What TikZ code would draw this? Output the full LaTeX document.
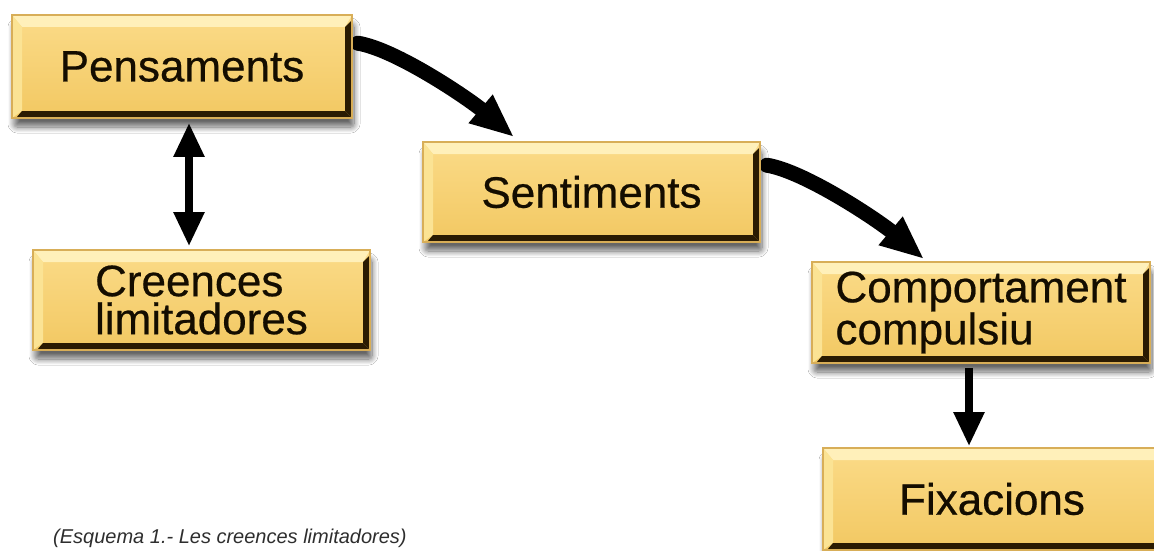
\documentclass[tikz,border=0pt]{standalone}
\usepackage{fontspec}
\setmainfont{Liberation Sans}
\newfontfamily\boxfont[FakeBold=0.5]{Liberation Sans}
\usetikzlibrary{arrows.meta,calc,shadows.blur}

\definecolor{faceTop}{HTML}{FBDB88}
\definecolor{faceBot}{HTML}{F2C862}
\definecolor{bevelLight}{HTML}{FFF0BA}
\definecolor{bevelSide}{HTML}{FBE394}
\definecolor{edgeDark}{HTML}{2A1B02}
\definecolor{rimGold}{HTML}{D8AE58}
\definecolor{inkDark}{HTML}{140D00}
\definecolor{captionGray}{HTML}{2E2E2E}

\pgfdeclarelayer{background}
\pgfsetlayers{background,main}

\tikzset{
  headtip/.tip={Triangle[length=34pt,width=29pt]},
  curvetip/.tip={Triangle[length=44pt,width=34pt]},
  goldbox/.style={
    rectangle, inner sep=0pt, align=left,
    top color=faceTop, bottom color=faceBot,
    draw=rimGold, line width=1.6pt, text=inkDark,
    font=\boxfont\fontsize{44}{38}\selectfont,
    blur shadow={shadow xshift=2pt, shadow yshift=-9pt,
                 shadow blur steps=12, shadow blur extra rounding=3pt,
                 shadow opacity=60, shadow blur radius=6pt},
    path picture={
      \fill[bevelLight] (path picture bounding box.north west)
        -- (path picture bounding box.north east)
        -- ([xshift=-7pt,yshift=-12pt]path picture bounding box.north east)
        -- ([xshift=10pt,yshift=-12pt]path picture bounding box.north west) -- cycle;
      \fill[bevelSide] (path picture bounding box.north west)
        -- ([xshift=10pt,yshift=-12pt]path picture bounding box.north west)
        -- ([xshift=10pt,yshift=7pt]path picture bounding box.south west)
        -- (path picture bounding box.south west) -- cycle;
      \fill[edgeDark] ([yshift=-5pt]path picture bounding box.north east)
        -- (path picture bounding box.south east)
        -- ([xshift=-7pt,yshift=7pt]path picture bounding box.south east)
        -- ([xshift=-7pt,yshift=-12pt]path picture bounding box.north east) -- cycle;
      \fill[edgeDark] ([xshift=4pt]path picture bounding box.south west)
        -- (path picture bounding box.south east)
        -- ([xshift=-7pt,yshift=7pt]path picture bounding box.south east)
        -- ([xshift=10pt,yshift=7pt]path picture bounding box.south west) -- cycle;
    }},
  straightarrow/.style={draw=black, line width=8pt},
  curvearrow/.style={draw=black, line width=15pt, line cap=round, -curvetip},
}

\begin{document}
\begin{tikzpicture}[x=1pt, y=-1pt]
  \clip (0,0) rectangle (1154,551);

  % boxes
  \node[goldbox, minimum width=340pt, minimum height=103pt] (pens) at (182,66.5) {Pensaments};
  \node[goldbox, minimum width=337pt, minimum height=100pt] (sent) at (591.5,192) {Sentiments};
  \node[goldbox, minimum width=337pt, minimum height=100pt] (cre)  at (201.5,300) {Creences\\limitadores};
  \node[goldbox, minimum width=338pt, minimum height=101pt] (comp) at (981,312.5) {Comportament\\compulsiu};
  \node[goldbox, minimum width=338pt, minimum height=102pt] (fix)  at (992,499) {Fixacions};

  % white ground and curved connectors behind the boxes
  \begin{pgfonlayer}{background}
    \fill[white] (0,0) rectangle (1154,551);
    \coordinate (p1) at ($(pens.north east)+(5,29)$);
    \coordinate (s1) at ($(sent.north west)+(92,-4)$);
    \coordinate (p2) at ($(sent.north east)+(6,24)$);
    \coordinate (c2) at ($(comp.north west)+(113,-2)$);
    \draw[curvearrow] (p1) .. controls +(38,6) and +(-45,-38) .. (s1);
    \draw[curvearrow] (p2) .. controls +(38,6) and +(-45,-38) .. (c2);
  \end{pgfonlayer}

  % straight connectors
  \draw[straightarrow, headtip-headtip] ($(pens.south)+(7,4)$) -- ($(cre.north)+(-12.5,-3)$);
  \draw[straightarrow, -headtip] ($(comp.south)+(-12,4)$) -- ($(fix.north)+(-23,-1)$);

  % caption
  \node[anchor=base west, inner sep=0pt, text=captionGray,
        font=\itshape\fontsize{20}{20}\selectfont] (cap) at (53,543)
        {(Esquema 1.- Les creences limitadores)};
\end{tikzpicture}
\end{document}
